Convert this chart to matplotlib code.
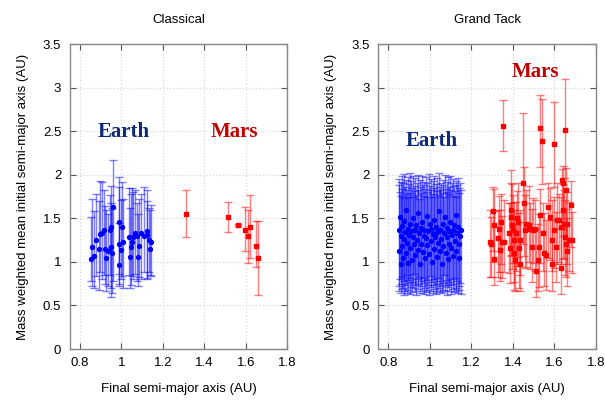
import matplotlib
matplotlib.use("Agg")
import matplotlib.pyplot as plt
import numpy as np

plt.rcParams['font.family'] = ['Liberation Sans', 'DejaVu Sans']

# Classical: Earth analogues
cl_earth_x = [0.851, 0.859, 0.868, 0.879, 0.892, 0.897, 0.908, 0.914, 0.919, 0.927,
              0.935, 0.943, 0.951, 0.951, 0.959, 0.956, 0.986, 0.990, 0.987, 1.000,
              1.003, 1.006, 1.035, 1.041, 1.046, 1.051, 1.057, 1.063, 1.073, 1.078,
              1.086, 1.095, 1.110, 1.121, 1.125, 1.133, 1.138, 1.141]
cl_earth_y = [1.03, 1.17, 1.07, 1.25, 1.15, 1.32, 1.33, 1.36, 1.15, 1.05,
              1.12, 1.37, 1.40, 1.17, 1.63, 1.10, 1.46, 1.21, 0.96, 1.14,
              1.40, 1.23, 1.29, 1.06, 1.17, 1.23, 1.29, 1.33, 1.30, 1.06,
              1.18, 1.33, 1.30, 1.35, 1.31, 1.25, 1.15, 1.23]
cl_earth_lo = [.25, .45, .37, .41, .47, .44, .53, .51, .40, .39,
               .40, .52, .80, .47, .85, .46, .60, .49, .21, .34,
               .56, .53, .44, .36, .44, .39, .49, .47, .52, .34,
               .35, .53, .42, .55, .49, .37, .30, .39]
cl_earth_hi = [.49, .55, .51, .53, .55, .61, .59, .46, .49, .55,
               .43, .40, .47, .51, .54, .52, .51, .65, .49, .57,
               .52, .49, .56, .56, .61, .62, .51, .50, .38, .49,
               .54, .45, .56, .47, .39, .37, .45, .42]

# Classical: Mars analogues
cl_mars_x = [1.311, 1.516, 1.562, 1.598, 1.608, 1.618, 1.649, 1.659]
cl_mars_y = [1.55, 1.52, 1.42, 1.37, 1.30, 1.40, 1.18, 1.04]
cl_mars_lo = [0.27, 0.18, 0.01, 0.25, 0.31, 0.36, 0.24, 0.42]
cl_mars_hi = [0.27, 0.17, 0.01, 0.26, 0.30, 0.37, 0.29, 0.43]

# Grand Tack: Earth analogues (mean, bar top, bar bottom)
gt_earth_x = [0.851, 0.853, 0.856, 0.858, 0.861, 0.864, 0.867, 0.869, 0.873, 0.876,
              0.879, 0.882, 0.885, 0.889, 0.892, 0.895, 0.899, 0.902, 0.905, 0.909,
              0.912, 0.916, 0.919, 0.923, 0.926, 0.930, 0.934, 0.937, 0.941, 0.944,
              0.948, 0.951, 0.955, 0.959, 0.962, 0.966, 0.970, 0.973, 0.977, 0.981,
              0.984, 0.988, 0.992, 0.995, 0.999, 1.003, 1.006, 1.010, 1.014, 1.017,
              1.021, 1.025, 1.028, 1.032, 1.036, 1.039, 1.043, 1.047, 1.050, 1.054,
              1.058, 1.061, 1.065, 1.069, 1.072, 1.076, 1.080, 1.083, 1.087, 1.091,
              1.094, 1.098, 1.102, 1.105, 1.109, 1.113, 1.116, 1.120, 1.124, 1.127,
              1.131, 1.135, 1.138, 1.142, 1.145, 1.149]
gt_earth_y = [1.36, 1.12, 1.52, 0.98, 1.30, 1.41, 1.18, 1.05, 1.47, 1.26,
              1.34, 1.60, 1.10, 1.22, 1.38, 0.99, 1.31, 1.44, 1.16, 1.35,
              1.02, 1.28, 1.50, 1.20, 1.37, 1.08, 1.42, 1.25, 1.56, 1.14,
              1.33, 0.97, 1.39, 1.21, 1.46, 1.11, 1.30, 1.36, 1.04, 1.27,
              1.53, 1.19, 1.35, 1.09, 1.43, 1.24, 1.38, 1.00, 1.32, 1.48,
              1.15, 1.29, 1.40, 1.06, 1.34, 1.22, 1.58, 1.13, 1.37, 1.26,
              0.98, 1.44, 1.18, 1.33, 1.51, 1.10, 1.28, 1.39, 1.03, 1.35,
              1.21, 1.46, 1.16, 1.31, 1.37, 1.07, 1.42, 1.24, 1.54, 1.12,
              1.33, 1.40, 1.20, 1.05, 1.30, 1.36]
gt_earth_top = [1.88, 1.95, 1.80, 1.92, 1.76, 1.99, 1.84, 1.90, 1.73, 2.01,
                1.86, 1.78, 1.94, 1.82, 1.97, 1.75, 1.89, 2.02, 1.79, 1.93,
                1.85, 1.74, 1.98, 1.87, 1.81, 1.96, 1.77, 1.91, 1.83, 2.00,
                1.72, 1.94, 1.86, 1.79, 1.99, 1.88, 1.76, 1.92, 1.84, 1.97,
                1.80, 1.90, 1.75, 2.01, 1.87, 1.82, 1.95, 1.78, 1.93, 1.85,
                1.98, 1.74, 1.89, 1.81, 1.96, 1.77, 2.02, 1.86, 1.83, 1.91,
                1.79, 1.94, 1.88, 1.75, 2.00, 1.84, 1.92, 1.80, 1.97, 1.86,
                1.78, 1.99, 1.82, 1.90, 1.76, 1.95, 1.87, 1.81, 1.93, 1.74,
                1.88, 1.96, 1.79, 1.85, 1.91, 1.83]
gt_earth_bot = [0.72, 0.66, 0.80, 0.64, 0.75, 0.69, 0.83, 0.70, 0.62, 0.78,
                0.67, 0.85, 0.73, 0.64, 0.79, 0.68, 0.76, 0.63, 0.81, 0.71,
                0.65, 0.77, 0.70, 0.86, 0.66, 0.74, 0.62, 0.80, 0.69, 0.75,
                0.83, 0.64, 0.72, 0.78, 0.67, 0.81, 0.63, 0.76, 0.70, 0.65,
                0.79, 0.68, 0.74, 0.62, 0.84, 0.71, 0.66, 0.77, 0.64, 0.73,
                0.80, 0.69, 0.63, 0.75, 0.67, 0.82, 0.70, 0.65, 0.78, 0.72,
                0.64, 0.76, 0.68, 0.85, 0.66, 0.73, 0.79, 0.62, 0.71, 0.77,
                0.67, 0.74, 0.63, 0.80, 0.69, 0.75, 0.65, 0.82, 0.70, 0.66,
                0.78, 0.64, 0.72, 0.68, 0.76, 0.63]

# Grand Tack: Mars analogues
gt_mars_x = [1.289, 1.294, 1.305, 1.310, 1.310, 1.326, 1.332, 1.337, 1.341, 1.345,
             1.357, 1.379, 1.384, 1.389, 1.392, 1.395, 1.400, 1.405, 1.405, 1.408,
             1.416, 1.421, 1.424, 1.427, 1.432, 1.436, 1.448, 1.452, 1.456, 1.464,
             1.475, 1.484, 1.491, 1.495, 1.506, 1.511, 1.519, 1.527, 1.532, 1.543,
             1.551, 1.559, 1.570, 1.579, 1.587, 1.590, 1.598, 1.606, 1.614, 1.622,
             1.630, 1.633, 1.638, 1.643, 1.643, 1.646, 1.649, 1.654, 1.654, 1.659,
             1.662, 1.670, 1.678, 1.686, 1.352, 1.530, 1.538, 1.597, 1.651]
gt_mars_y = [1.23, 1.21, 1.58, 1.42, 1.03, 1.27, 1.38, 1.14, 1.46, 1.23,
             1.23, 1.33, 1.16, 1.60, 1.52, 1.42, 1.37, 1.25, 1.10, 1.02,
             1.33, 1.50, 1.46, 1.16, 0.98, 1.25, 1.90, 1.67, 1.37, 1.44,
             1.42, 1.38, 1.17, 1.37, 1.38, 0.90, 1.02, 1.17, 1.54, 1.33,
             1.10, 1.08, 1.63, 1.52, 1.25, 0.98, 1.37, 1.17, 1.48, 1.48,
             1.40, 0.93, 1.94, 1.90, 1.59, 1.44, 1.29, 1.82, 1.21, 1.44,
             1.12, 1.25, 1.65, 1.25, 2.56, 2.54, 2.39, 2.35, 2.51]
gt_mars_lo = [0.40, 0.38, 0.45, 0.42, 0.30, 0.44, 0.50, 0.36, 0.48, 0.42,
              0.35, 0.46, 0.40, 0.52, 0.45, 0.50, 0.38, 0.48, 0.42, 0.35,
              0.44, 0.55, 0.40, 0.46, 0.32, 0.40, 0.70, 0.60, 0.44, 0.50,
              0.42, 0.46, 0.40, 0.38, 0.48, 0.30, 0.35, 0.46, 0.55, 0.44,
              0.38, 0.40, 0.58, 0.50, 0.36, 0.32, 0.44, 0.40, 0.50, 0.48,
              0.42, 0.30, 0.55, 0.60, 0.56, 0.40, 0.44, 0.55, 0.38, 0.46,
              0.40, 0.36, 0.48, 0.38, 0.29, 0.45, 0.50, 0.49, 0.55]
gt_mars_hi = [0.36, 0.30, 0.28, 0.42, 0.55, 0.33, 0.38, 0.45, 0.32, 0.30,
              0.48, 0.35, 0.52, 0.45, 0.38, 0.47, 0.40, 0.44, 0.50, 0.42,
              0.36, 0.31, 0.44, 0.40, 0.48, 0.35, 0.81, 0.42, 0.40, 0.38,
              0.45, 0.30, 0.44, 0.36, 0.33, 0.48, 0.42, 0.38, 0.30, 0.35,
              0.46, 0.40, 0.28, 0.33, 0.46, 0.50, 0.38, 0.40, 0.42, 0.30,
              0.35, 0.45, 0.12, 0.20, 0.30, 0.38, 0.42, 0.26, 0.40, 0.36,
              0.38, 0.44, 0.28, 0.32, 0.30, 0.38, 0.48, 0.49, 0.59]

gt_earth_lo = list(np.array(gt_earth_y) - np.array(gt_earth_bot))
gt_earth_hi = list(np.array(gt_earth_top) - np.array(gt_earth_y))

titles = ["Classical", "Grand Tack"]
panels = [
    (cl_earth_x, cl_earth_y, cl_earth_lo, cl_earth_hi,
     cl_mars_x, cl_mars_y, cl_mars_lo, cl_mars_hi,
     (1.01, 2.49), (1.546, 2.49)),
    (gt_earth_x, gt_earth_y, gt_earth_lo, gt_earth_hi,
     gt_mars_x, gt_mars_y, gt_mars_lo, gt_mars_hi,
     (1.01, 2.385), (1.51, 3.18)),
]

fig = plt.figure(figsize=(6.05, 4.0), dpi=100)
lefts = [0.115, 0.625]
for i, (ex, ey, elo, ehi, mx, my, mlo, mhi, elab, mlab) in enumerate(panels):
    ax = fig.add_axes([lefts[i], 0.1275, 0.36, 0.7625])
    ax.grid(True, color='#d8d8d8', linestyle=':', linewidth=0.9)
    ax.set_axisbelow(True)
    ax.errorbar(ex, ey, yerr=[elo, ehi], fmt='o', color='#0000ff', ms=2.8,
                ecolor=(0, 0, 1, 0.5), elinewidth=1.0, capsize=3, capthick=1.0)
    ax.errorbar(mx, my, yerr=[mlo, mhi], fmt='s', color='#ff0000', ms=2.7,
                ecolor=(1, 0, 0, 0.5), elinewidth=1.0, capsize=3, capthick=1.0)
    ax.text(elab[0], elab[1], "Earth", color='#0d2a78', fontsize=15,
            fontweight='bold', family='Liberation Serif', ha='center', va='center')
    ax.text(mlab[0], mlab[1], "Mars", color='#c00000', fontsize=15,
            fontweight='bold', family='Liberation Serif', ha='center', va='center')
    ax.set_xlim(0.75, 1.8)
    ax.set_ylim(0, 3.5)
    ax.set_xticks([0.8, 1.0, 1.2, 1.4, 1.6, 1.8])
    ax.set_xticklabels(["0.8", "1", "1.2", "1.4", "1.6", "1.8"])
    ax.set_yticks([0, 0.5, 1, 1.5, 2, 2.5, 3, 3.5])
    ax.set_yticklabels(["0", "0.5", "1", "1.5", "2", "2.5", "3", "3.5"])
    ax.tick_params(direction='in', length=4, width=0.8, top=True, right=True,
                   labelsize=9.5, color='#555555', pad=6)
    for s in ax.spines.values():
        s.set_color('#888888')
        s.set_linewidth(1.0)
    ax.set_title(titles[i], fontsize=9.5, pad=15)
    ax.set_xlabel("Final semi-major axis (AU)", fontsize=9.5, labelpad=10)
    ax.set_ylabel("Mass weighted mean initial semi-major axis (AU)", fontsize=9.5, labelpad=10)

fig.savefig("out.png", dpi=100)
